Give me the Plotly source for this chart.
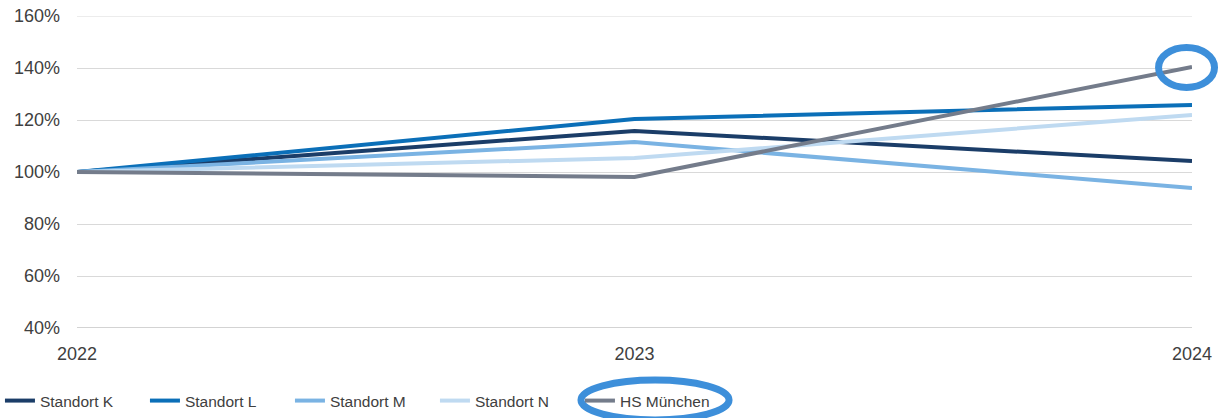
import plotly.graph_objects as go

# Entwicklung relativ zu 2022 (=100 %)
years = [2022, 2023, 2024]
standort_k = [100, 115.8, 104.2]
standort_l = [100, 120.4, 125.8]
standort_m = [100, 111.5, 93.8]
standort_n = [100, 105.4, 121.9]
hs_muenchen = [100, 98.1, 140.4]

series = [
    ('Standort K', standort_k, '#1B3D68'),
    ('Standort L', standort_l, '#0B6FB8'),
    ('Standort M', standort_m, '#7AB3E3'),
    ('Standort N', standort_n, '#BFDAF1'),
    ('HS München', hs_muenchen, '#747C8B'),
]

fig = go.Figure()
for name, vals, col in series:
    fig.add_trace(go.Scatter(x=years, y=vals, name=name, mode='lines',
                             line=dict(color=col, width=4)))

ring = dict(color='#3D8FDA', width=7)
# Markierung am Endpunkt HS München
fig.add_shape(type='circle', xref='paper', yref='paper',
              x0=0.970, x1=1.0202, y0=0.771, y1=0.899, line=ring)
# Markierung im Legendeneintrag
fig.add_shape(type='circle', xref='paper', yref='paper',
              x0=0.452, x1=0.5848, y0=-0.295, y1=-0.167, line=ring)

fig.update_layout(
    width=1222, height=418,
    margin=dict(l=77, r=30, t=16, b=90, autoexpand=False),
    plot_bgcolor='white', paper_bgcolor='white',
    font=dict(family='Liberation Sans, Arial', color='#404040', size=18),
    showlegend=True,
    legend=dict(orientation='h', x=-0.0691, xanchor='left', y=-0.234,
                yanchor='middle', font=dict(size=15.5),
                bgcolor='rgba(0,0,0,0)',
                entrywidth=100, entrywidthmode='pixels'),
)
fig.update_xaxes(range=[2022, 2024], tickvals=years, showgrid=False,
                 zeroline=False, showline=False, ticklabelstandoff=13,
                 ticklabeloverflow='allow')
fig.update_yaxes(range=[40, 160], dtick=20, ticksuffix='%',
                 gridcolor='#D9D9D9', gridwidth=1, zeroline=False,
                 showline=False, ticklabelstandoff=16,
                 ticklabeloverflow='allow')
fig.add_hline(y=160, line=dict(color='#D9D9D9', width=1), layer='below')
fig.add_hline(y=40, line=dict(color='#A6A6A6', width=1), layer='below')

# drop the default 8px page margin so the figure fills the window
fig.write_html('out.html', config={'displayModeBar': False},
               post_script="document.body.style.margin='0';")
